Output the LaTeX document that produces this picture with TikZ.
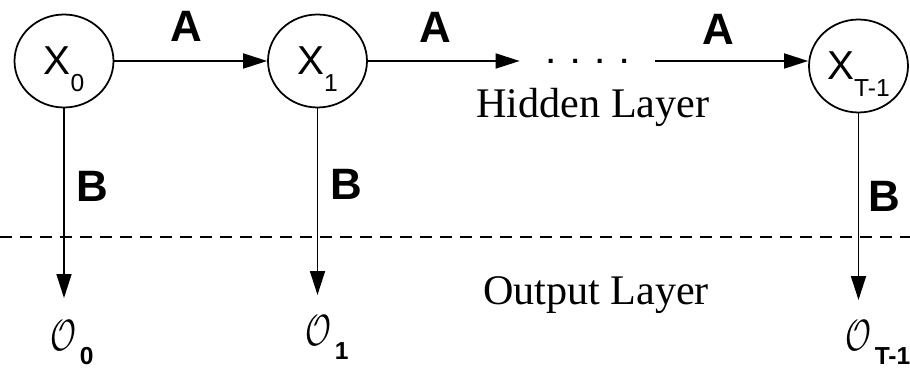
\documentclass[tikz,border=0pt]{standalone}
\usepackage{fontspec}
\setmainfont{Liberation Serif}
\setsansfont{Liberation Sans}
\usetikzlibrary{arrows.meta, shapes.geometric}

\newcommand{\xsub}[1]{\raisebox{-9.4pt}{\fontsize{14}{14}\selectfont #1}}
\newcommand{\osub}[1]{\raisebox{-8pt}{\fontsize{14}{14}\selectfont\bfseries #1}}
\newcommand{\obsO}{\scalebox{0.72}[1]{\fontsize{26}{26}\selectfont$\mathcal{O}$}}

\begin{document}
\begin{tikzpicture}[
  x=0.02cm, y=0.02cm,
  hid/.style = {
    ellipse, draw, line width=1pt,
    minimum width=1.98cm, minimum height=1.86cm,
    inner sep=0pt, text depth=0pt,
    font=\sffamily\fontsize{23}{23}\selectfont
  },
  arr/.style = {-{Triangle[length=0.48cm, width=0.3cm]}, line width=1pt},
  lbl/.style = {anchor=base, inner sep=0pt, font=\sffamily\bfseries\fontsize{25}{25}\selectfont},
  layer/.style = {anchor=base, inner sep=0pt, font=\fontsize{24}{24}\selectfont},
  obs/.style = {anchor=north west, inner sep=0pt, font=\sffamily},
  divider/.style = {line width=1.4pt, dash pattern=on 0.24cm off 0.16cm}
]
\useasboundingbox (0,0) rectangle (910,368);

% Hidden states
\node[hid] (x0) at (64,307)    {X\xsub{0}};
\node[hid] (x1) at (317.5,307) {X\xsub{1}};
\node[font=\sffamily\bfseries\fontsize{16}{16}\selectfont, minimum width=2.7cm, inner sep=0pt]
  (dots) at (587.5,307) {.\hspace{9.5pt}.\hspace{9.5pt}.\hspace{9.5pt}.};
\node[hid] (xT) at (858.5,302) {X\xsub{T-1}};

% Observations
\node[obs] (o0) at (50,48)  {\obsO\hspace{2pt}\osub{0}};
\node[obs] (o1) at (305,53) {\obsO\hspace{2pt}\osub{1}};
\node[obs] (oT) at (845,48) {\obsO\hspace{2pt}\osub{T-1}};

% Transitions
\draw[arr] (x0) -- (x1);
\draw[arr] (x1) -- (dots);
\draw[arr] (dots.east) -- (dots.east -| xT.west);
\node[lbl] (a1) at (186,326)   {A};
\node[lbl] (a2) at (435.5,325) {A};
\node[lbl] (a3) at (718,323)   {A};

% Emissions
\draw[arr, shorten >=0.44cm] (x0.south) -- (x0.south |- o0.north);
\draw[arr, shorten >=0.4cm] (x1.south) -- (x1.south |- o1.north);
\draw[arr, shorten >=0.4cm] (xT.south) -- (xT.south |- oT.north);
\node[lbl] (b1) at (92,166)  {B};
\node[lbl] (b2) at (346,168) {B};
\node[lbl] (b3) at (884,156) {B};

% Layers
\coordinate (divL) at (0,131);
\coordinate (divR) at (910,131);
\draw[divider] (divL) -- (divR);
\node[layer] (hidden) at (593,250) {Hidden Layer};
\node[layer] (output) at (596,63)  {Output Layer};
\end{tikzpicture}
\end{document}
